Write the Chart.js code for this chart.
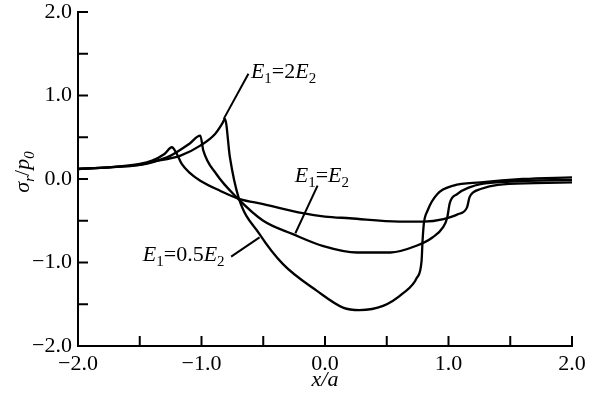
<!DOCTYPE html>
<html>
<head>
<meta charset="utf-8">
<script src="https://cdn.jsdelivr.net/npm/chart.js@4/dist/chart.umd.min.js"></script>
<style>
    body { margin: 0; background: #fff; }
    #wrap { width: 589px; height: 398px; }
</style>
</head>
<body>
<div id="wrap"><canvas id="myChart" width="589" height="398"></canvas></div>
<script>
// values (x/a, sigma_r/p0)
const xShallow = [-2.0, -1.75, -1.5, -1.4, -1.3, -1.24, -1.2, -1.16, -1.1, -1.01, -0.85, -0.69, -0.5, -0.18, 0.0, 0.2, 0.6, 0.8, 0.96, 1.08, 1.15, 1.17, 1.2, 1.26, 1.4, 1.7, 2.0];
const yShallow = [0.12, 0.14, 0.18, 0.22, 0.30, 0.38, 0.30, 0.18, 0.08, -0.02, -0.14, -0.24, -0.30, -0.41, -0.45, -0.47, -0.51, -0.51, -0.48, -0.42, -0.34, -0.22, -0.16, -0.12, -0.07, -0.05, -0.04];

const xMiddle = [-2.0, -1.75, -1.5, -1.4, -1.25, -1.1, -1.01, -0.985, -0.88, -0.715, -0.5, -0.26, -0.02, 0.26, 0.53, 0.74, 0.87, 0.955, 0.99, 1.01, 1.07, 1.17, 1.26, 1.5, 2.0];
const yMiddle = [0.12, 0.14, 0.17, 0.20, 0.28, 0.42, 0.52, 0.34, 0.06, -0.22, -0.50, -0.66, -0.80, -0.88, -0.88, -0.80, -0.70, -0.58, -0.46, -0.29, -0.18, -0.10, -0.06, -0.03, -0.01];

const xDeep = [-2.0, -1.75, -1.5, -1.42, -1.17, -1.01, -0.89, -0.83, -0.81, -0.77, -0.70, -0.53, -0.34, -0.065, 0.146, 0.28, 0.47, 0.63, 0.745, 0.782, 0.79, 0.80, 0.83, 0.91, 1.04, 1.26, 1.6, 2.0];
const yDeep = [0.12, 0.14, 0.17, 0.20, 0.28, 0.40, 0.54, 0.67, 0.72, 0.26, -0.22, -0.66, -1.02, -1.34, -1.54, -1.57, -1.52, -1.37, -1.18, -0.98, -0.74, -0.54, -0.38, -0.18, -0.08, -0.04, 0.0, 0.02];

const tickValues = [-2.0, -1.5, -1.0, -0.5, 0.0, 0.5, 1.0, 1.5, 2.0];

// curve labels: text pieces, where the text sits and where its leader line goes (data units)
const labelParts = {
    twice: [["E", "i"], ["1", "s"], ["=2", ""], ["E", "i"], ["2", "s"]],
    equal: [["E", "i"], ["1", "s"], ["=", ""], ["E", "i"], ["2", "s"]],
    half: [["E", "i"], ["1", "s"], ["=0.5", ""], ["E", "i"], ["2", "s"]]
};
const labelSpots = [
    {parts: "twice", at: [-0.60, 1.21], line: [[-0.62, 1.26], [-0.82, 0.72]]},
    {parts: "equal", at: [-0.245, -0.03], line: [[-0.06, -0.08], [-0.24, -0.65]]},
    {parts: "half", at: [-1.475, -0.98], line: [[-0.76, -0.93], [-0.53, -0.70]]}
];

const FONT = "'Liberation Serif', 'Times New Roman', serif";
const SIZE = 22;
const SUB = 15;

function toPoints(xs, ys) {
    return xs.map((x, i) => ({x: x, y: ys[i]}));
}

function fmtTick(v) {
    if (Math.abs(v - Math.round(v)) > 1e-6) return "";
    let s = Math.abs(v).toFixed(1);
    return v < -1e-6 ? "\u2212" + s : s;
}

// draws pieces like E, subscript 1, "=2" on one baseline, starting at x
function drawRich(ctx, x, y, parts) {
    let cx = x;
    for (let j = 0; j < parts.length; j++) {
        const [txt, kind] = parts[j];
        if (kind === "s") {
            ctx.font = SUB + "px " + FONT;
            ctx.fillText(txt, cx, y + 5);
        } else {
            ctx.font = (kind === "i" ? "italic " : "") + SIZE + "px " + FONT;
            ctx.fillText(txt, cx, y);
        }
        cx += ctx.measureText(txt).width;
    }
    return cx - x;
}

const inwardTicks = {
    id: "inwardTicks",
    afterDraw(chart) {
        const ctx = chart.ctx;
        const xs = chart.scales.x, ys = chart.scales.y;
        ctx.save();
        ctx.strokeStyle = "#000";
        ctx.lineWidth = 2;
        ctx.beginPath();
        for (let i = 0; i < tickValues.length; i++) {
            const px = xs.getPixelForValue(tickValues[i]);
            ctx.moveTo(px, xs.top);
            ctx.lineTo(px, xs.top - 10);
            const py = ys.getPixelForValue(tickValues[i]);
            ctx.moveTo(ys.right, py);
            ctx.lineTo(ys.right + 10, py);
        }
        ctx.stroke();
        ctx.restore();
    }
};

const textBits = {
    id: "textBits",
    afterDraw(chart) {
        const ctx = chart.ctx;
        const xs = chart.scales.x, ys = chart.scales.y;
        ctx.save();
        ctx.fillStyle = "#000";
        ctx.strokeStyle = "#000";
        ctx.lineWidth = 2;
        ctx.textBaseline = "alphabetic";
        ctx.textAlign = "left";
        for (let k = 0; k < labelSpots.length; k++) {
            const spot = labelSpots[k];
            drawRich(ctx, xs.getPixelForValue(spot.at[0]), ys.getPixelForValue(spot.at[1]), labelParts[spot.parts]);
            ctx.beginPath();
            ctx.moveTo(xs.getPixelForValue(spot.line[0][0]), ys.getPixelForValue(spot.line[0][1]));
            ctx.lineTo(xs.getPixelForValue(spot.line[1][0]), ys.getPixelForValue(spot.line[1][1]));
            ctx.stroke();
        }

        // x axis title
        ctx.font = "italic " + SIZE + "px " + FONT;
        ctx.textAlign = "center";
        ctx.fillText("x/a", (xs.left + xs.right) / 2, 386);

        // y axis title, rotated
        ctx.translate(29, 172);
        ctx.rotate(-Math.PI / 2);
        ctx.textAlign = "left";
        const yParts = [["\u03c3", "i"], ["r", "s"], ["/", ""], ["p", "i"], ["0", "s"]];
        let w = 0;
        for (let j = 0; j < yParts.length; j++) {
            const kind = yParts[j][1];
            ctx.font = (kind === "i" || kind === "s" ? "italic " : "") + (kind === "s" ? SUB : SIZE) + "px " + FONT;
            w += ctx.measureText(yParts[j][0]).width;
        }
        let cx = -w / 2;
        for (let j = 0; j < yParts.length; j++) {
            const [txt, kind] = yParts[j];
            if (kind === "s") {
                ctx.font = "italic " + SUB + "px " + FONT;
                ctx.fillText(txt, cx, 5);
            } else {
                ctx.font = (kind === "i" ? "italic " : "") + SIZE + "px " + FONT;
                ctx.fillText(txt, cx, 0);
            }
            cx += ctx.measureText(txt).width;
        }
        ctx.restore();
    }
};

const lineStyle = {
    borderColor: "#000",
    borderWidth: 2.3,
    pointRadius: 0,
    fill: false,
    cubicInterpolationMode: "monotone"
};

new Chart("myChart", {
    type: "line",
    data: {
        datasets: [
            Object.assign({label: "E1=0.5E2", data: toPoints(xShallow, yShallow)}, lineStyle),
            Object.assign({label: "E1=E2", data: toPoints(xMiddle, yMiddle)}, lineStyle),
            Object.assign({label: "E1=2E2", data: toPoints(xDeep, yDeep)}, lineStyle)
        ]
    },
    options: {
        responsive: false,
        animation: false,
        layout: {padding: {top: 12, right: 17, left: 0, bottom: 0}},
        plugins: {
            legend: {display: false},
            tooltip: {enabled: false}
        },
        scales: {
            x: {
                type: "linear",
                min: -2,
                max: 2,
                afterFit: (s) => { s.height = 52; s.paddingLeft = 0; s.paddingRight = 0; },
                grid: {display: false, drawTicks: false},
                border: {display: true, color: "#000", width: 2},
                ticks: {
                    stepSize: 0.5,
                    autoSkip: false,
                    maxRotation: 0,
                    padding: 5,
                    color: "#000",
                    font: {family: FONT, size: SIZE},
                    callback: (v) => fmtTick(v)
                }
            },
            y: {
                type: "linear",
                min: -2,
                max: 2,
                afterFit: (s) => { s.width = 78; s.paddingTop = 0; s.paddingBottom = 0; },
                grid: {display: false, drawTicks: false},
                border: {display: true, color: "#000", width: 2},
                ticks: {
                    stepSize: 0.5,
                    autoSkip: false,
                    padding: 6,
                    color: "#000",
                    font: {family: FONT, size: SIZE},
                    callback: (v) => fmtTick(v)
                }
            }
        }
    },
    plugins: [inwardTicks, textBits]
});
</script>
</body>
</html>
